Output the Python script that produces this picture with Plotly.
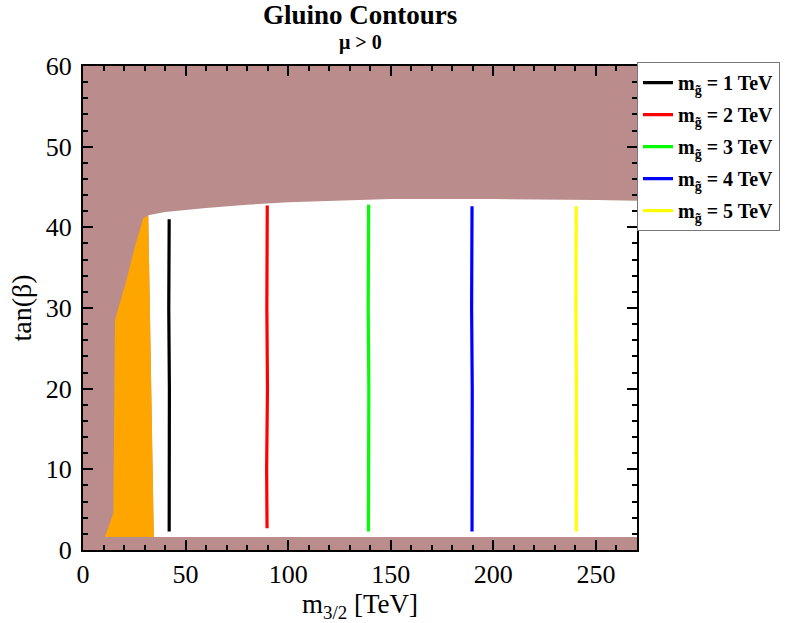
import plotly.graph_objects as go

# ---- data ----
# allowed (white) region: top boundary of the white area
white_top_x = [31.8, 40, 60, 80, 100, 150, 200, 250, 270]
white_top_y = [41.5, 41.9, 42.4, 42.8, 43.1, 43.5, 43.5, 43.4, 43.3]
white_bottom_y = 1.6

# orange region polygon (excluded region, left side)
orange_x = [10.7, 14.8, 15.6, 18.0, 21.2, 25.3, 29.3, 31.8, 34.5, 10.7]
orange_y = [1.6, 4.6, 28.5, 30.6, 33.5, 37.6, 41.1, 41.5, 1.6, 1.6]

# gluino mass contours (vertical lines)
contour_names = ["1", "2", "3", "4", "5"]
contour_colors = ["#000000", "#FF0000", "#00FF00", "#0000FF", "#FFFF00"]
contour_x = [
    [42.0, 41.8, 42.1, 41.9, 42.0],
    [89.8, 89.6, 89.9, 89.5, 89.7],
    [139.2, 139.0, 139.3, 139.0, 139.1],
    [189.6, 189.4, 189.7, 189.5, 189.6],
    [240.4, 240.2, 240.5, 240.3, 240.4],
]
contour_y = [
    [41.0, 30, 20, 10, 2.3],
    [42.7, 30, 20, 10, 2.7],
    [42.8, 30, 20, 10, 2.3],
    [42.6, 30, 20, 10, 2.3],
    [42.6, 30, 20, 10, 2.3],
]

x_range = [0, 270]
y_range = [0, 60]

BROWN = "rgb(186,140,140)"
ORANGE = "#FFA500"
SERIF = "Liberation Serif, Times New Roman, serif"

fig = go.Figure()

# white allowed region: bottom edge, right edge, top curve (reversed), orange right edge
wx = [34.5, 270] + white_top_x[::-1] + [34.5]
wy = [white_bottom_y, white_bottom_y] + white_top_y[::-1] + [white_bottom_y]
fig.add_trace(go.Scatter(x=wx, y=wy, fill="toself", fillcolor="white",
                         line=dict(width=0, color="white"), mode="lines",
                         showlegend=False, hoverinfo="skip"))

fig.add_trace(go.Scatter(x=orange_x, y=orange_y, fill="toself", fillcolor=ORANGE,
                         line=dict(width=0, color=ORANGE), mode="lines",
                         showlegend=False, hoverinfo="skip"))

for name, col, xs, ys in zip(contour_names, contour_colors, contour_x, contour_y):
    fig.add_trace(go.Scatter(
        x=xs, y=ys, mode="lines", line=dict(color=col, width=3.2),
        legendgroup="g" + name,
        name=f"<b>m<sub>g\u0303</sub> = {name} TeV</b>"))

axis_common = dict(
    showline=True, linecolor="black", linewidth=2, mirror="allticks",
    ticks="inside", ticklen=10, tickwidth=2, tickcolor="black",
    showgrid=False, zeroline=False,
    tickfont=dict(family=SERIF, size=26, color="black"),
)

fig.update_xaxes(range=x_range, dtick=50, tick0=0,
                 minor=dict(dtick=10, ticks="inside", ticklen=5, tickwidth=2, tickcolor="black"),
                 title=dict(text="m<sub>3/2</sub> [TeV]", font=dict(family=SERIF, size=27, color="black"),
                            standoff=0),
                 **axis_common)
fig.update_yaxes(range=y_range, dtick=10, tick0=0, ticklabelstandoff=4,
                 minor=dict(dtick=2, ticks="inside", ticklen=5, tickwidth=2, tickcolor="black"),
                 title=dict(text="tan(\u03b2)", font=dict(family=SERIF, size=28, color="black"),
                            standoff=6),
                 **axis_common)

fig.update_layout(
    width=785, height=623,
    margin=dict(l=83, r=148, t=66, b=73, autoexpand=False),
    plot_bgcolor=BROWN, paper_bgcolor="white",
    legend=dict(x=1.0, xanchor="left", y=1.008, yanchor="top",
                bordercolor="#777777", borderwidth=1, bgcolor="white",
                font=dict(family=SERIF, size=20, color="black"),
                itemwidth=30, tracegroupgap=3),
    showlegend=True,
    annotations=[
        dict(text="<b>Gluino Contours</b>", xref="paper", yref="paper",
             x=0.5, y=1.0, yshift=66 - 15, xanchor="center", yanchor="middle",
             showarrow=False, font=dict(family=SERIF, size=27, color="black")),
        dict(text="<b>\u03bc > 0</b>", xref="paper", yref="paper",
             x=0.5, y=1.0, yshift=66 - 42, xanchor="center", yanchor="middle",
             showarrow=False, font=dict(family=SERIF, size=20, color="black")),
    ],
)

fig.write_html("out.html")
